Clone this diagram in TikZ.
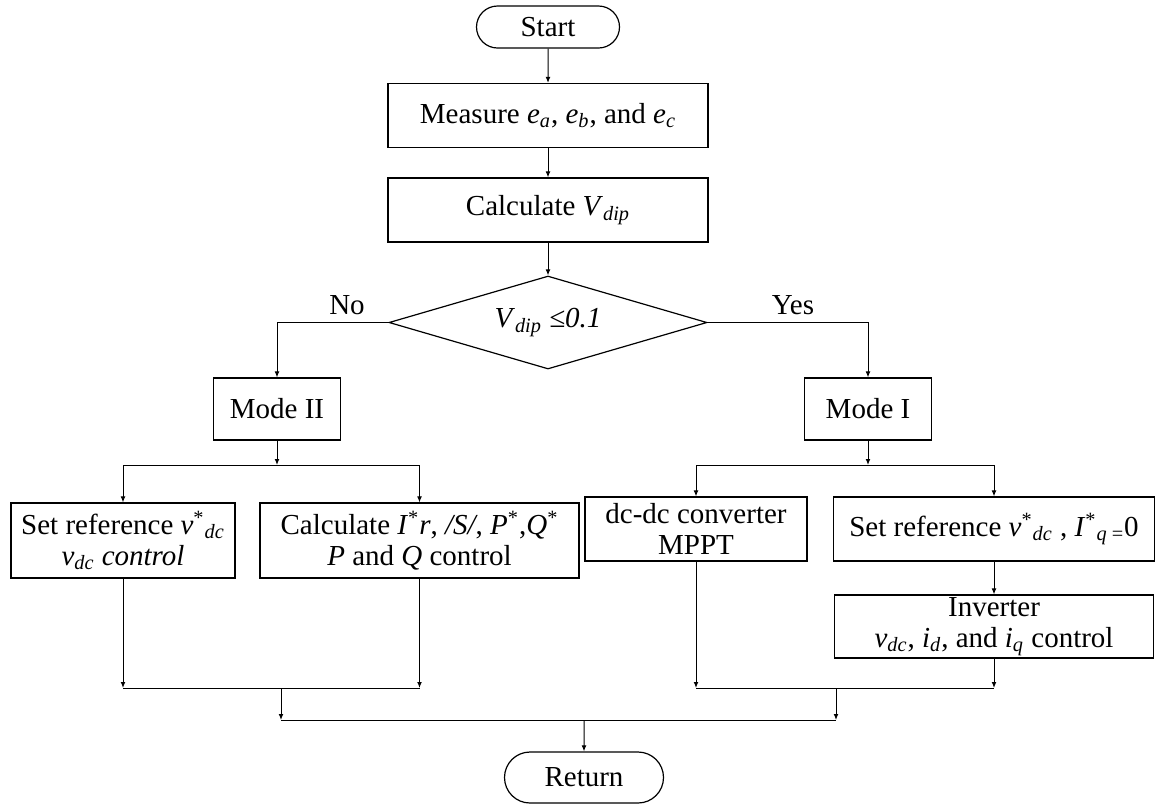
\documentclass[tikz,border=0pt]{standalone}
\usepackage{fontspec}
\setmainfont{Liberation Serif}
\usetikzlibrary{arrows.meta,shapes.geometric,shapes.misc}

\newcommand{\sub}[2]{\textit{#1}\textsubscript{\textit{#2}}}

\tikzset{
  box/.style={draw, line width=0.6pt, inner sep=0pt, align=center},
  term/.style={draw, rounded rectangle, line width=0.6pt, inner sep=0pt},
  decide/.style={draw, diamond, aspect=3.4, line width=0.6pt, inner sep=0pt},
  arr/.style={-{Latex[length=3pt,width=2.4pt]}, line width=0.5pt},
  ln/.style={line width=0.5pt}
}

\begin{document}
\begin{tikzpicture}[x=0.5pt, y=-0.5pt, font=\fontsize{14.5}{15.5}\selectfont]
	%%%%% START %%%%%
	\useasboundingbox (0,0) rectangle (1155,805);

	% main column
	\node[term, minimum width=71.5pt, minimum height=21pt] (start) at (548,27) {Start};
	\node[box, minimum width=160pt, minimum height=32pt] (measure) at (548,115.5) {Measure \sub{e}{a}, \sub{e}{b}, and \sub{e}{c}};
	\node[box, minimum width=160pt, minimum height=32pt] (calcv) at (548,210) {Calculate \sub{V}{dip}};
	\node[decide, minimum width=159pt, minimum height=46.5pt] (dip) at (548,322.5) {\sub{V}{dip} \textit{≤0.1}};

	\draw[arr] (start) -- (measure);
	\draw[arr] (measure) -- (calcv);
	\draw[arr] (calcv) -- (dip);

	% modes
	\node[box, minimum width=63.5pt, minimum height=31pt] (mode2) at (277,409) {Mode II};
	\node[box, minimum width=63.5pt, minimum height=31pt] (mode1) at (868,409) {Mode I};
	\node (no) at (347,305) {No};
	\node (yes) at (793,305) {Yes};

	\draw[arr] (dip.west) -| (mode2);
	\draw[arr] (dip.east) -| (mode1);

	% mode II actions
	\node[box, minimum width=112pt, minimum height=37.5pt] (setl) at (123,540.5) {Set reference \textit{v}\textsuperscript{*}\textsubscript{\textit{dc}}\\ \sub{v}{dc} \textit{control}};
	\node[box, minimum width=159.5pt, minimum height=37.5pt] (calcp) at (419.5,540.5) {Calculate \textit{I}\textsuperscript{*}\textit{r}, \textit{/S/}, \textit{P}\textsuperscript{*},\textit{Q}\textsuperscript{*}\\ \textit{P} and \textit{Q} control};

	% mode I actions
	\node[box, minimum width=111pt, minimum height=32pt] (dcdc) at (696,529) {dc-dc converter\\ MPPT};
	\node[box, minimum width=160.5pt, minimum height=32pt] (setr) at (994,529) {Set reference \textit{v}\textsuperscript{*}\textsubscript{\textit{dc}} , \textit{I}\textsuperscript{*}\textsubscript{\textit{q} =}0};
	\node[box, minimum width=159.5pt, minimum height=31.5pt] (inv) at (994,626.5) {Inverter\\ \sub{v}{dc}, \sub{i}{d}, and \sub{i}{q} control};

	\node[term, minimum width=79.5pt, minimum height=25.5pt] (ret) at (584,777.5) {Return};

	% splitting
	\coordinate (sl) at (277,465);
	\coordinate (sr) at (868,465);
	\draw[arr] (mode2) -- (sl);
	\draw[ln] (sl -| setl) -- (sl -| calcp);
	\draw[arr] (sl -| setl) -- (setl);
	\draw[arr] (sl -| calcp) -- (calcp);
	\draw[arr] (mode1) -- (sr);
	\draw[ln] (sr -| dcdc) -- (sr -| setr);
	\draw[arr] (sr -| dcdc) -- (dcdc);
	\draw[arr] (sr -| setr) -- (setr);
	\draw[arr] (setr) -- (inv);

	% merging
	\coordinate (ml) at (281,688);
	\coordinate (mr) at (836,688);
	\coordinate (jn) at (584,720);
	\draw[arr] (setl) -- (setl |- ml);
	\draw[arr] (calcp) -- (calcp |- ml);
	\draw[ln] (setl |- ml) -- (calcp |- ml);
	\draw[arr] (ml) -- (ml |- jn);
	\draw[arr] (dcdc) -- (dcdc |- mr);
	\draw[arr] (inv) -- (inv |- mr);
	\draw[ln] (dcdc |- mr) -- (inv |- mr);
	\draw[arr] (mr) -- (mr |- jn);
	\draw[ln] (ml |- jn) -- (mr |- jn);
	\draw[arr] (jn) -- (ret);

	%%%%% END %%%%%
\end{tikzpicture}
\end{document}
